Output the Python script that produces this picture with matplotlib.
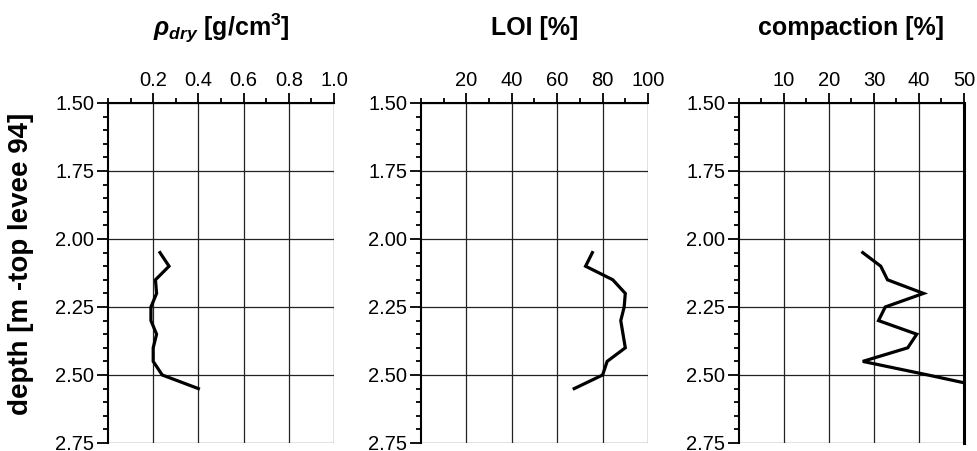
import matplotlib
matplotlib.use("Agg")
import matplotlib.pyplot as plt
from matplotlib.ticker import MultipleLocator, FixedLocator

plt.rcParams['font.family'] = ['Liberation Sans', 'DejaVu Sans']
plt.rcParams['mathtext.fontset'] = 'custom'
plt.rcParams['mathtext.rm'] = 'Liberation Sans:bold'
plt.rcParams['mathtext.it'] = 'Liberation Sans:italic:bold'
plt.rcParams['mathtext.bf'] = 'Liberation Sans:bold'

depth = [2.05, 2.10, 2.15, 2.20, 2.25, 2.30, 2.35, 2.40, 2.45, 2.50, 2.55]
rho_dry = [0.23, 0.27, 0.21, 0.215, 0.19, 0.19, 0.215, 0.20, 0.20, 0.24, 0.40]
loi = [75.5, 72.5, 84.5, 90.0, 89.5, 88.0, 89.0, 90.0, 82.0, 80.0, 67.5]
compaction = [27.5, 31.5, 33.0, 41.0, 32.5, 31.0, 39.5, 37.5, 27.5, 42.0, 56.0]

titles = [r'$\rho_{dry}$ [g/cm$^{3}$]', 'LOI [%]', 'compaction [%]']
xlims = [(0, 1.0), (0, 100), (0, 50)]
xmajor = [[0.2, 0.4, 0.6, 0.8, 1.0], [20, 40, 60, 80, 100], [10, 20, 30, 40, 50]]
xticklabels = [['0.2', '0.4', '0.6', '0.8', '1.0'],
               ['20', '40', '60', '80', '100'],
               ['10', '20', '30', '40', '50']]
xminor = [0.1, 10, 5]
yticks = [1.50, 1.75, 2.00, 2.25, 2.50, 2.75]
yticklabels = ['1.50', '1.75', '2.00', '2.25', '2.50', '2.75']
ylabel = 'depth [m -top levee 94]'

W, H = 978, 451
fig = plt.figure(figsize=(W / 100, H / 100), dpi=100)
lefts = [108, 421, 739]
widths = [226, 227, 225]
top_px, bot_px = 103, 443

series = [rho_dry, loi, compaction]
for i in range(3):
    ax = fig.add_axes([lefts[i] / W, (H - bot_px) / H, widths[i] / W, (bot_px - top_px) / H])
    ax.set_xlim(*xlims[i])
    ax.set_ylim(2.75, 1.50)
    ax.xaxis.set_major_locator(FixedLocator(xmajor[i]))
    ax.set_xticklabels(xticklabels[i])
    ax.xaxis.set_minor_locator(MultipleLocator(xminor[i]))
    ax.yaxis.set_major_locator(FixedLocator(yticks))
    ax.set_yticklabels(yticklabels)
    ax.yaxis.set_minor_locator(MultipleLocator(0.05))
    ax.xaxis.tick_top()
    ax.tick_params(axis='x', which='major', direction='out', length=7.5, width=1.3,
                   labelsize=14.5, pad=2, top=True, bottom=False)
    ax.tick_params(axis='x', which='minor', direction='out', length=3.8, width=1.3,
                   top=True, bottom=False)
    ax.tick_params(axis='y', which='major', direction='out', length=8, width=1.3,
                   labelsize=14.5, pad=2)
    ax.tick_params(axis='y', which='minor', direction='out', length=3.8, width=1.3)
    ax.grid(True, which='major', color='#222222', linewidth=0.9)
    ax.set_axisbelow(True)
    for s in ['bottom', 'right']:
        ax.spines[s].set_visible(False)
    for s in ['top', 'left']:
        ax.spines[s].set_linewidth(1.5)
    if i == 2:
        ax.spines['right'].set_visible(True)
        ax.spines['right'].set_linewidth(2.2)
    ax.plot(series[i], depth, color='black', linewidth=2.3, solid_joinstyle='miter')
    ax.text(0.5, 1.22, titles[i], transform=ax.transAxes, ha='center', va='center',
            fontsize=18, fontweight='bold')

fig.text(21 / W, 1 - 264 / H, ylabel, rotation=90, ha='center', va='center',
         fontsize=20, fontweight='bold')

fig.savefig('out.png', dpi=100)
